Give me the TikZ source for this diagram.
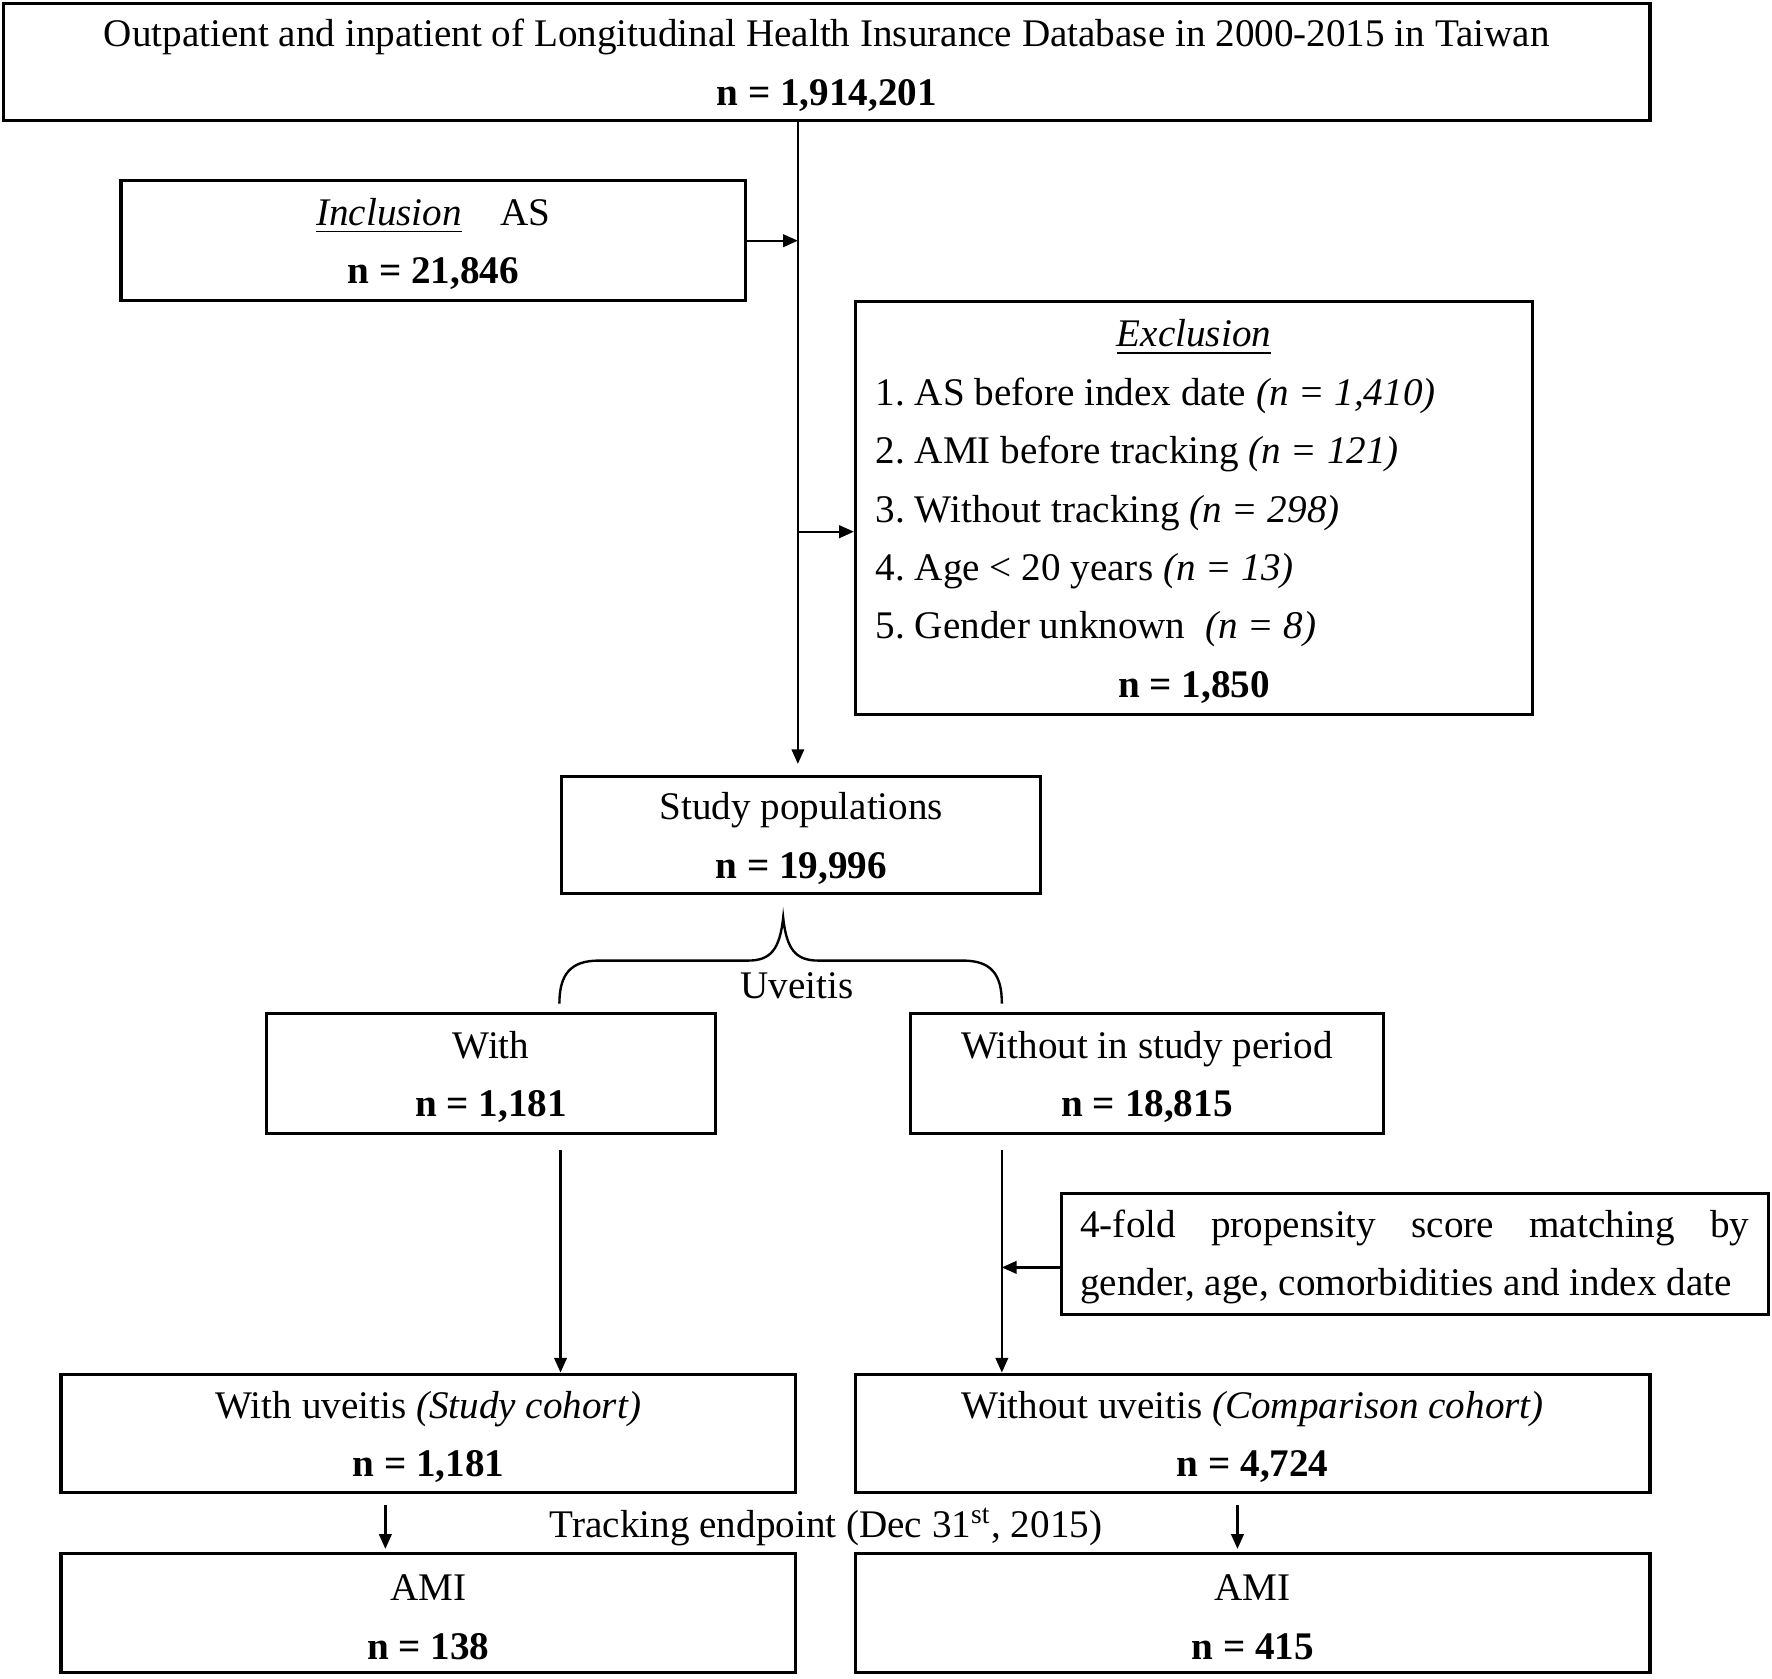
\documentclass[tikz,border=0pt]{standalone}
\usepackage{fontspec}
\setmainfont{Liberation Serif}
\usetikzlibrary{arrows.meta}

\begin{document}
\begin{tikzpicture}[font=\fontsize{9.85pt}{14.7pt}\selectfont,
    box/.style={draw, line width=0.8pt, align=flush center, inner sep=0pt, minimum width=#1, text width=#1,
        execute at begin node={\rule{0pt}{8.6pt}}},
    arr/.style={-{Triangle[length=1.3mm,width=1.1mm]}, line width=0.6pt}]
    \useasboundingbox (0,0) rectangle (15.68,-14.85);

    \node[box=14.57cm, minimum height=1.04cm] (top) at (7.315,-0.55)
        {Outpatient and inpatient of Longitudinal Health Insurance Database in 2000-2015 in Taiwan\\\textbf{n = 1,914,201}};
    \node[box=5.53cm, minimum height=1.06cm] (incl) at (3.835,-2.13)
        {\underline{\textit{Inclusion}}\hspace{0.34cm}AS\\\textbf{n = 21,846}};
    \node[box=5.99cm, align=flush left, text width=5.63cm, inner xsep=0.18cm, minimum height=3.65cm] (excl) at (10.565,-4.495)
        {\makebox[\linewidth]{\underline{\textit{Exclusion}}}\\
         1.\ AS before index date \textit{(n = 1,410)}\\
         2.\ AMI before tracking \textit{(n = 121)}\\
         3.\ Without tracking \textit{(n = 298)}\\
         4.\ Age < 20 years \textit{(n = 13)}\\
         5.\ Gender unknown \ \textit{(n = 8)}\\
         \makebox[\linewidth]{\textbf{n = 1,850}}};
    \node[box=4.24cm, minimum height=1.04cm] (study) at (7.09,-7.39)
        {Study populations\\\textbf{n = 19,996}};

    \node (uv) at (7.05,-8.72) {Uveitis};
    \node[box=3.97cm, minimum height=1.06cm] (with) at (4.345,-9.50)
        {With\\\textbf{n = 1,181}};
    \node[box=4.18cm, minimum height=1.06cm] (without) at (10.15,-9.50)
        {Without in study period\\\textbf{n = 18,815}};
    \node[box=6.26cm, align=justify, text width=5.92cm, inner xsep=0.17cm, minimum height=1.07cm] (match) at (12.52,-11.095)
        {4-fold propensity score matching by \mbox{gender,} age, comorbidities and index date};

    \node[box=6.50cm, minimum height=1.05cm] (studyc) at (3.79,-12.685)
        {With uveitis \textit{(Study cohort)}\\\textbf{n = 1,181}};
    \node[box=7.03cm, minimum height=1.05cm] (compc) at (11.085,-12.685)
        {Without uveitis \textit{(Comparison cohort)}\\\textbf{n = 4,724}};
    \node (track) at (7.31,-13.51) {Tracking endpoint (Dec 31\textsuperscript{st}, 2015)};
    \node[box=6.50cm, minimum height=1.05cm] (amil) at (3.79,-14.275)
        {AMI\\\textbf{n = 138}};
    \node[box=7.03cm, minimum height=1.05cm] (amir) at (11.085,-14.275)
        {AMI\\\textbf{n = 415}};

    \coordinate (trunk) at (7.06,-6.76);
    \coordinate (wl) at (4.96,-10.18);
    \coordinate (wr) at (8.865,-10.18);

    \draw[arr] (top.south -| trunk) -- (trunk);
    \draw[arr] (incl.east) -- (incl.east -| trunk);
    \draw[arr] ([yshift=-0.21cm]excl.west -| trunk) -- ([yshift=-0.21cm]excl.west);

    \draw[line width=0.6pt] (4.95,-8.88) .. controls (4.95,-8.62) and (5.05,-8.5) .. (5.3,-8.5)
        -- (6.62,-8.5) .. controls (6.82,-8.5) and (6.9,-8.4) .. (6.93,-8.12)
        .. controls (6.96,-8.4) and (7.04,-8.5) .. (7.24,-8.5)
        -- (8.52,-8.5) .. controls (8.77,-8.5) and (8.865,-8.62) .. (8.865,-8.88);

    \draw[arr] (wl) -- (wl |- studyc.north);
    \draw[arr] (wr) -- (wr |- compc.north);
    \draw[arr] ([yshift=-0.12cm]match.west) -- ([yshift=-0.12cm]match.west -| wr);

    \draw[arr] ([shift={(-0.38,-0.09)}]studyc.south) -- ([shift={(-0.38,0.03)}]amil.north);
    \draw[arr] ([shift={(-0.135,-0.09)}]compc.south) -- ([shift={(-0.135,0.03)}]amir.north);
\end{tikzpicture}
\end{document}
